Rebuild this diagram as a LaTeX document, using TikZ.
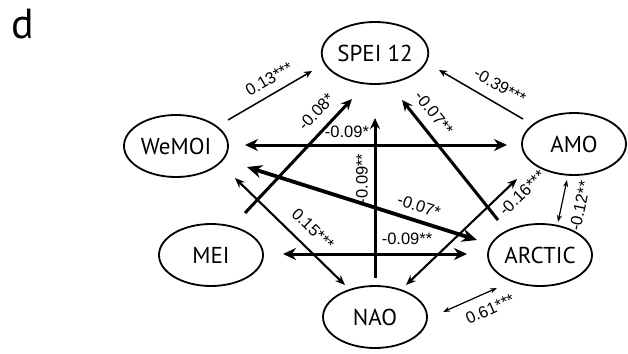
\documentclass[tikz,border=0pt]{standalone}
\usepackage{fontspec}
\setmainfont{PT Sans}
\newfontfamily\coeffont{Liberation Sans}
\usetikzlibrary{shapes.geometric,arrows.meta}

\tikzset{
  var/.style={draw, ellipse, line width=1.8pt, minimum width=104pt, minimum height=62pt,
    inner sep=0pt, font=\fontsize{23}{25}\selectfont},
  lab/.style={inner sep=0pt, font=\coeffont\fontsize{16.5}{18}\selectfont},
  thinone/.style={line width=1.5pt, -{Stealth[length=8pt,width=7pt]}},
  thinboth/.style={line width=1.2pt, {Stealth[length=7pt,width=5pt]}-{Stealth[length=7pt,width=5pt]}},
  midboth/.style={line width=2.1pt, {Stealth[length=10pt,width=8pt]}-{Stealth[length=10pt,width=8pt]}},
  thickone/.style={line width=3pt, -{Stealth[length=11pt,width=10pt]}},
  thickboth/.style={line width=3pt, {Stealth[length=13pt,width=12pt]}-{Stealth[length=13pt,width=12pt]}},
  heavyboth/.style={line width=3.8pt, {Stealth[length=15pt,width=13pt]}-{Stealth[length=15pt,width=13pt]}}
}

\begin{document}
\begin{tikzpicture}[x=1pt,y=-1pt]
	\useasboundingbox (0,0) rectangle (628,353);
	\node[anchor=base west, inner sep=0pt, font=\fontsize{42}{44}\selectfont] (panel) at (11,38) {d};

	% variables
	\node[var] (spei) at (375,53) {SPEI 12};
	\node[var] (wemoi) at (176,146) {WeMOI};
	\node[var] (amo) at (574,144) {AMO};
	\node[var] (mei) at (211,255) {MEI};
	\node[var] (arctic) at (540,255) {ARCTIC};
	\node[var] (nao) at (375,317) {NAO};

	% arrow ends
	\coordinate (wemoi-spei) at (228,120);
	\coordinate (spei-wemoi) at (312,71);
	\coordinate (amo-spei) at (523,119);
	\coordinate (spei-amo) at (439,70);
	\coordinate (mei-spei) at (245,213);
	\coordinate (spei-mei) at (352,99);
	\coordinate (nao-spei) at (375,278);
	\coordinate (spei-nao) at (375,118);
	\coordinate (arctic-spei) at (498,220);
	\coordinate (spei-arctic) at (402,100);
	\coordinate (wemoi-amo) at (245,145);
	\coordinate (amo-wemoi) at (507,145);
	\coordinate (wemoi-arctic) at (247,167);
	\coordinate (arctic-wemoi) at (477,240);
	\coordinate (mei-arctic) at (283,254);
	\coordinate (arctic-mei) at (467,254);
	\coordinate (wemoi-nao) at (235,178);
	\coordinate (nao-wemoi) at (345,285);
	\coordinate (nao-amo) at (406,285);
	\coordinate (amo-nao) at (517,179);
	\coordinate (amo-arctic) at (567,180);
	\coordinate (arctic-amo) at (558,222);
	\coordinate (nao-arctic) at (443,312);
	\coordinate (arctic-nao) at (497,288);

	% links
	\draw[thinone] (wemoi-spei) -- (spei-wemoi);
	\draw[thinone] (amo-spei) -- (spei-amo);
	\draw[thickone] (mei-spei) -- (spei-mei);
	\draw[thickone] (nao-spei) -- (spei-nao);
	\draw[thickone] (arctic-spei) -- (spei-arctic);
	\draw[thickboth] (wemoi-amo) -- (amo-wemoi);
	\draw[heavyboth] (wemoi-arctic) -- (arctic-wemoi);
	\draw[thickboth] (mei-arctic) -- (arctic-mei);
	\draw[midboth] (wemoi-nao) -- (nao-wemoi);
	\draw[midboth] (nao-amo) -- (amo-nao);
	\draw[thinboth] (amo-arctic) -- (arctic-amo);
	\draw[thinboth] (nao-arctic) -- (arctic-nao);

	% coefficients
	\node[lab, rotate=30] (c-ws) at (269,79) {0.13***};
	\node[lab, rotate=-30] (c-as) at (500,86) {-0.39***};
	\node[lab, rotate=47] (c-ms) at (316,112) {-0.08*};
	\node[lab, rotate=90] (c-ns) at (362,179) {-0.09**};
	\node[lab, rotate=-51] (c-rs) at (434,113) {-0.07**};
	\node[lab] (c-wa) at (347,132) {-0.09*};
	\node[lab, rotate=-18] (c-wr) at (419,206) {-0.07*};
	\node[lab] (c-mr) at (407,239) {-0.09**};
	\node[lab, rotate=-44] (c-wn) at (313,229) {0.15***};
	\node[lab, rotate=44] (c-na) at (522,193) {-0.16***};
	\node[lab, rotate=78] (c-ar) at (580,206) {-0.12**};
	\node[lab, rotate=24] (c-nr) at (490,309) {0.61***};
\end{tikzpicture}
\end{document}
